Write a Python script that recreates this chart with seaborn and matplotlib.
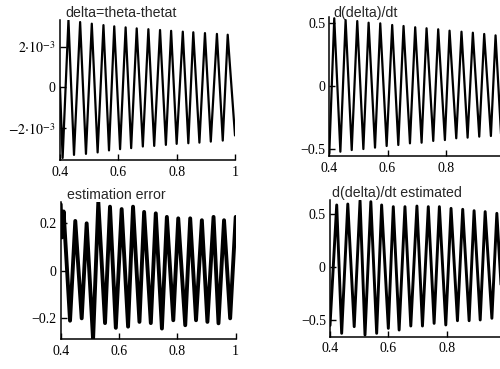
import matplotlib
matplotlib.use("Agg")
import matplotlib.pyplot as plt
import pandas as pd
import seaborn as sns

# ---- signal extrema (time in s, value), read peak by peak ----
delta_t = [0.400, 0.409, 0.429, 0.448, 0.469, 0.489, 0.509, 0.529, 0.549,
           0.568, 0.586, 0.606, 0.625, 0.644, 0.663, 0.684, 0.703, 0.723,
           0.743, 0.763, 0.781, 0.800, 0.821, 0.840, 0.857, 0.878, 0.897,
           0.917, 0.938, 0.958, 0.975, 1.000]
delta_v = [0.0e-3, -3.45e-3, 3.30e-3, -3.30e-3, 3.20e-3, -3.25e-3, 3.12e-3,
           -3.18e-3, 3.05e-3, -3.08e-3, 2.99e-3, -3.02e-3, 2.94e-3, -2.97e-3,
           2.89e-3, -2.89e-3, 2.85e-3, -2.86e-3, 2.81e-3, -2.81e-3, 2.77e-3,
           -2.76e-3, 2.73e-3, -2.73e-3, 2.70e-3, -2.70e-3, 2.66e-3, -2.65e-3,
           2.62e-3, -2.60e-3, 2.58e-3, -2.35e-3]

ddelta_t = [0.400, 0.417, 0.438, 0.456, 0.477, 0.496, 0.517, 0.535, 0.557,
            0.575, 0.597, 0.616, 0.637, 0.655, 0.677, 0.695, 0.717, 0.734,
            0.757, 0.774, 0.797, 0.813, 0.836, 0.854, 0.875, 0.893, 0.915,
            0.932, 0.955, 0.971, 0.990, 1.000]
ddelta_v = [-0.532, 0.535, -0.519, 0.521, -0.506, 0.513, -0.498, 0.500,
            -0.487, 0.495, -0.474, 0.482, -0.466, 0.474, -0.453, 0.464,
            -0.448, 0.456, -0.434, 0.448, -0.427, 0.437, -0.413, 0.429,
            -0.408, 0.421, -0.400, 0.411, -0.395, 0.400, -0.390, -0.050]

error_t = [0.400, 0.403, 0.410, 0.432, 0.450, 0.472, 0.489, 0.511, 0.529,
           0.552, 0.569, 0.589, 0.609, 0.631, 0.648, 0.670, 0.686, 0.709,
           0.726, 0.747, 0.764, 0.786, 0.803, 0.827, 0.844, 0.864, 0.884,
           0.903, 0.924, 0.941, 0.960, 0.981, 1.000]
error_v = [0.280, 0.140, 0.250, -0.210, 0.210, -0.200, 0.200, -0.290, 0.290,
           -0.220, 0.270, -0.240, 0.260, -0.235, 0.270, -0.215, 0.248, -0.220,
           0.242, -0.243, 0.227, -0.208, 0.221, -0.229, 0.221, -0.208, 0.213,
           -0.215, 0.227, -0.221, 0.213, -0.200, 0.227]

est_t = [0.400, 0.423, 0.440, 0.461, 0.483, 0.503, 0.520, 0.540, 0.560,
         0.577, 0.600, 0.617, 0.637, 0.657, 0.677, 0.698, 0.717, 0.737,
         0.757, 0.775, 0.797, 0.815, 0.837, 0.855, 0.877, 0.894, 0.915,
         0.932, 0.955, 0.972, 0.993, 1.000]
est_v = [-0.550, 0.589, -0.624, 0.598, -0.561, 0.630, -0.640, 0.620,
         -0.624, 0.589, -0.577, 0.573, -0.593, 0.573, -0.555, 0.579,
         -0.555, 0.573, -0.530, 0.573, -0.545, 0.557, -0.505, 0.548,
         -0.505, 0.535, -0.498, 0.526, -0.482, 0.510, -0.480, -0.200]

titles = ["delta=theta-thetat", "d(delta)/dt",
          "estimation error", "d(delta)/dt estimated"]
x_ticks = [0.4, 0.6, 0.8, 1.0]
x_labels_left = ["0.4", "0.6", "0.8", "1"]
# the right-hand column runs off the page edge, so its "1" is not printed
x_labels_right = ["0.4", "0.6", "0.8", ""]

sns.set_style("ticks")
plt.rcParams["font.family"] = ["Liberation Serif", "DejaVu Serif"]
plt.rcParams["mathtext.fontset"] = "stix"

W, H = 500, 369
fig = plt.figure(figsize=(W / 100, H / 100), dpi=100)


def add_panel(left, right, top, bottom):
    return fig.add_axes([left / W, 1 - bottom / H,
                         (right - left) / W, (bottom - top) / H])


panels = [
    # (pixel box, data, ylim, yticks, ylabels, xlabels, linewidth, title pos)
    ((60, 235, 20, 160), (delta_t, delta_v), (-3.55e-3, 3.30e-3),
     [-2e-3, 0, 2e-3],
     [r"$-2{\cdot}10^{-3}$", "0", r"$2{\cdot}10^{-3}$"],
     x_labels_left, 1.6, (65, 13)),
    ((329.3, 504, 17, 156), (ddelta_t, ddelta_v), (-0.553, 0.545),
     [-0.5, 0, 0.5], ["\u22120.5", "0", "0.5"],
     x_labels_right, 1.6, (333, 13)),
    ((60.7, 235.7, 201.7, 339), (error_t, error_v), (-0.287, 0.291),
     [-0.2, 0, 0.2], ["\u22120.2", "0", "0.2"],
     x_labels_left, 2.8, (67, 195)),
    ((330, 505, 200, 336.7), (est_t, est_v), (-0.656, 0.636),
     [-0.5, 0, 0.5], ["\u22120.5", "0", "0.5"],
     x_labels_right, 2.1, (332, 193)),
]

for (box, (tt, vv), ylim, yt, yl, xl, lw, tpos), title in zip(panels, titles):
    ax = add_panel(*box)
    df = pd.DataFrame({"t": tt, "v": vv})
    sns.lineplot(data=df, x="t", y="v", ax=ax, color="black", lw=lw,
                 sort=False, estimator=None)
    ax.set_xlim(0.4, 1.0)
    ax.set_ylim(*ylim)
    ax.set_xticks(x_ticks)
    ax.set_xticklabels(xl)
    ax.set_yticks(yt)
    ax.set_yticklabels(yl)
    ax.set_xlabel("")
    ax.set_ylabel("")
    for side in ("top", "right"):
        ax.spines[side].set_visible(False)
    for side in ("left", "bottom"):
        ax.spines[side].set_linewidth(1.1)
        ax.spines[side].set_color("black")
    ax.tick_params(axis="both", direction="in", length=4, width=1.0,
                   labelsize=10, colors="black", pad=3)
    ax.tick_params(axis="x", pad=4)
    ax.set_facecolor("white")
    fig.text(tpos[0] / W, 1 - tpos[1] / H, title, ha="left", va="center",
             fontsize=10.2, family=["Liberation Sans", "DejaVu Sans"])

fig.savefig("out.png", dpi=100, facecolor="white")
